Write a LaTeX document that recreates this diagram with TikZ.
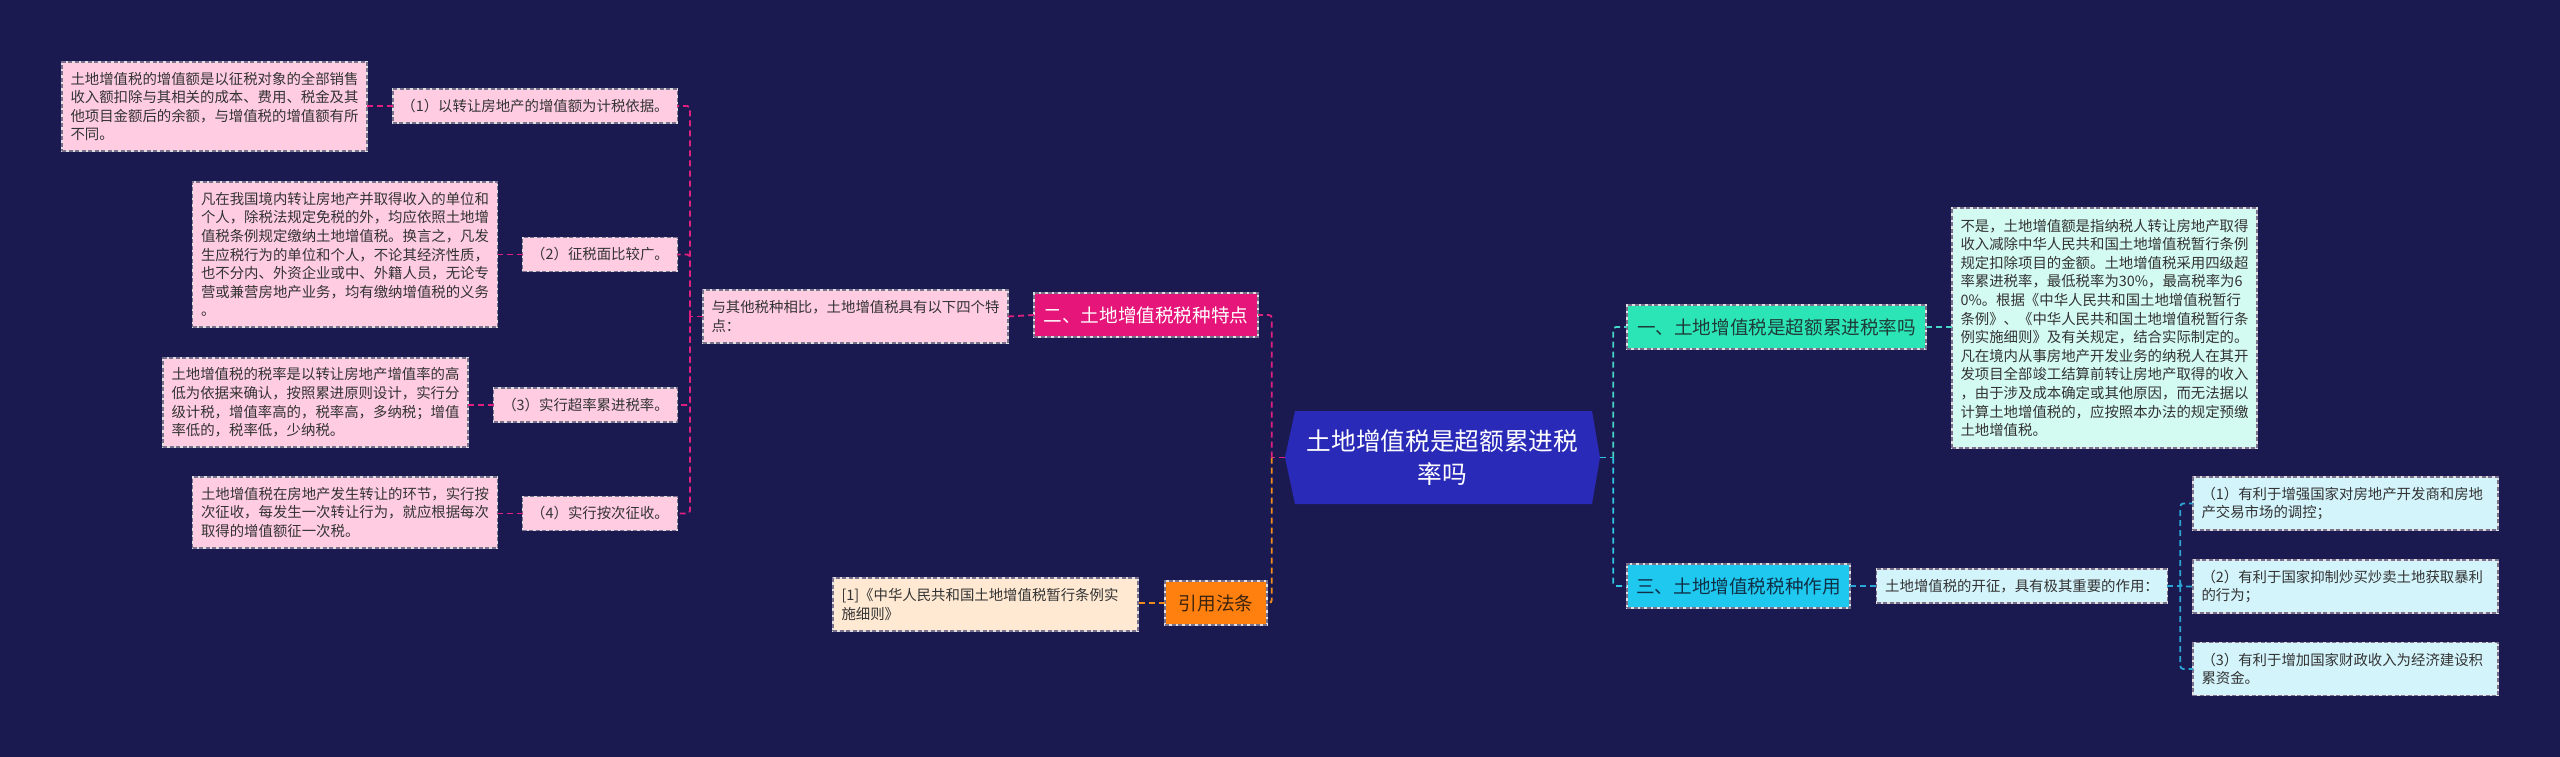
\documentclass[tikz,border=0pt]{standalone}
\usepackage{fontspec}
\setmainfont{Noto Sans CJK SC}
\usetikzlibrary{calc}
\definecolor{bg}{RGB}{27,26,80}
\definecolor{mag}{RGB}{224,32,127}
\definecolor{org}{RGB}{240,140,30}
\definecolor{cyn}{RGB}{47,200,226}
\definecolor{mint}{RGB}{70,214,200}
\definecolor{blu}{RGB}{42,165,214}
\definecolor{pinkfill}{RGB}{255,204,225}
\definecolor{peach}{RGB}{255,233,211}
\definecolor{mintfill}{RGB}{212,251,241}
\definecolor{cyanfill}{RGB}{211,244,251}
\definecolor{magfill}{RGB}{230,21,122}
\definecolor{orgfill}{RGB}{255,127,15}
\definecolor{mintbox}{RGB}{44,229,183}
\definecolor{cyanbox}{RGB}{30,200,238}
\definecolor{hexfill}{RGB}{42,42,184}
\definecolor{txt}{RGB}{51,51,51}
\definecolor{bordergray}{RGB}{120,112,140}
\begin{document}
\begin{tikzpicture}[x=1pt,y=-1pt]
\tikzset{
  boxbase/.style={rectangle, inner xsep=8.5pt, inner ysep=0pt, outer sep=0pt,
    draw=white!88!black, line width=1.2pt,
    postaction={draw=bordergray, dash pattern=on 4pt off 2.5pt, line width=1.2pt}},
  small/.style={boxbase, text=txt, font=\fontsize{14.4}{18.6}\selectfont},
  para/.style={small, align=left, text width=288pt},
  single/.style={small, align=center},
  head/.style={boxbase, align=center, minimum height=44pt, font=\fontsize{18.6}{22}\selectfont},
  conn/.style={dash pattern=on 6pt off 4pt, line width=1.8pt, rounded corners=3pt},
}
\fill[bg] (0,0) rectangle (2560,757);

% ---------- center ----------
\coordinate (cc) at (1442.5,457.5);
\fill[hexfill] ($(cc)+(-157.5,0)$) -- ($(cc)+(-147.5,-46.5)$) -- ($(cc)+(149.5,-46.5)$)
  -- ($(cc)+(157.5,0)$) -- ($(cc)+(149.5,46.5)$) -- ($(cc)+(-147.5,46.5)$) -- cycle;
\node[align=center, text=white, font=\fontsize{24.7}{33}\selectfont,
  minimum width=315pt, minimum height=93pt, inner sep=0pt] (c) at (cc)
  {土地增值税是超额累进税\\率吗};

% ---------- left branch ----------
\node[head, fill=magfill, text=white, minimum width=224pt] (er) at (1146,315) {二、土地增值税税种特点};
\node[para, fill=pinkfill, minimum height=53pt] (tz) at (855.5,316.5)
  {与其他税种相比，土地增值税具有以下四个特\\点：};

\node[single, fill=pinkfill, minimum width=284pt, minimum height=34pt] (q1) at (535,106)
  {（1）以转让房地产的增值额为计税依据。};
\node[single, fill=pinkfill, minimum width=154pt, minimum height=34pt] (q2) at (600,254.5)
  {（2）征税面比较广。};
\node[single, fill=pinkfill, minimum width=183pt, minimum height=34pt] (q3) at (585.5,405)
  {（3）实行超率累进税率。};
\node[single, fill=pinkfill, minimum width=154pt, minimum height=34pt] (q4) at (600,513.5)
  {（4）实行按次征收。};

\node[para, fill=pinkfill, minimum height=89pt] (L1) at (214.5,106.5)
  {土地增值税的增值额是以征税对象的全部销售\\收入额扣除与其相关的成本、费用、税金及其\\他项目金额后的余额，与增值税的增值额有所\\不同。};
\node[para, fill=pinkfill, minimum height=145pt] (L2) at (345,254.5)
  {凡在我国境内转让房地产并取得收入的单位和\\个人，除税法规定免税的外，均应依照土地增\\值税条例规定缴纳土地增值税。换言之，凡发\\生应税行为的单位和个人，不论其经济性质，\\也不分内、外资企业或中、外籍人员，无论专\\营或兼营房地产业务，均有缴纳增值税的义务\\。};
\node[para, fill=pinkfill, minimum height=89pt] (L3) at (315.5,402.5)
  {土地增值税的税率是以转让房地产增值率的高\\低为依据来确认，按照累进原则设计，实行分\\级计税，增值率高的，税率高，多纳税；增值\\率低的，税率低，少纳税。};
\node[para, fill=pinkfill, minimum height=71pt] (L4) at (345,512.5)
  {土地增值税在房地产发生转让的环节，实行按\\次征收，每发生一次转让行为，就应根据每次\\取得的增值额征一次税。};

\node[head, fill=orgfill, text={rgb,255:red,59;green,36;blue,16}, minimum width=102pt] (yy) at (1216,603) {引用法条};
\node[para, fill=peach, minimum height=53pt] (ref) at (985.5,604.5)
  {[1]《中华人民共和国土地增值税暂行条例实\\施细则》};

% ---------- right branch ----------
\node[head, fill=mintbox, text={rgb,255:red,30;green,60;blue,55}, minimum width=299pt] (yi) at (1776.5,327)
  {一、土地增值税是超额累进税率吗};
\node[para, fill=mintfill, minimum height=240pt] (big) at (2104.5,328)
  {不是，土地增值额是指纳税人转让房地产取得\\收入减除中华人民共和国土地增值税暂行条例\\规定扣除项目的金额。土地增值税采用四级超\\率累进税率，最低税率为30\%，最高税率为6\\0\%。根据《中华人民共和国土地增值税暂行\\条例》、《中华人民共和国土地增值税暂行条\\例实施细则》及有关规定，结合实际制定的。\\凡在境内从事房地产开发业务的纳税人在其开\\发项目全部竣工结算前转让房地产取得的收入\\，由于涉及成本确定或其他原因，而无法据以\\计算土地增值税的，应按照本办法的规定预缴\\土地增值税。};

\node[head, fill=cyanbox, text={rgb,255:red,16;green,48;blue,72}, minimum width=223pt] (san) at (1738.5,586)
  {三、土地增值税税种作用};
\node[single, fill=cyanfill, minimum width=290pt, minimum height=34pt] (kz) at (2022,586)
  {土地增值税的开征，具有极其重要的作用：};
\node[para, fill=cyanfill, minimum height=53pt] (r1) at (2345.5,503.5)
  {（1）有利于增强国家对房地产开发商和房地\\产交易市场的调控；};
\node[para, fill=cyanfill, minimum height=53pt] (r2) at (2345.5,586.5)
  {（2）有利于国家抑制炒买炒卖土地获取暴利\\的行为；};
\node[para, fill=cyanfill, minimum height=53pt] (r3) at (2345.5,669)
  {（3）有利于增加国家财政收入为经济建设积\\累资金。};

% ---------- connectors ----------
\coordinate (spC) at ($(c.west)+(-13,0)$);
\coordinate (spR) at ($(c.east)+(13,0)$);
\coordinate (spL) at ($(tz.west)+(-13,0)$);
\coordinate (spK) at ($(kz.east)+(13,0)$);

\draw[conn, mag] (c.west) -- (spC);
\draw[conn, mag] (spC) |- (er.east);
\draw[conn, org] (spC) |- (yy.east);
\draw[conn, mag] (er.west) -- (tz.east);
\draw[conn, mag] (tz.west) -- (spL);
\draw[conn, mag] (spL) |- (q1.east);
\draw[conn, mag] (spL) |- (q2.east);
\draw[conn, mag] (spL) |- (q3.east);
\draw[conn, mag] (spL) |- (q4.east);
\draw[conn, mag] (q1.west) -- (L1.east |- q1.west);
\draw[conn, mag] (q2.west) -- (L2.east |- q2.west);
\draw[conn, mag] (q3.west) -- (L3.east |- q3.west);
\draw[conn, mag] (q4.west) -- (L4.east |- q4.west);
\draw[conn, org] (yy.west) -- (ref.east |- yy.west);

\draw[conn, cyn] (c.east) -- (spR);
\draw[conn, mint] (spR) |- (yi.west);
\draw[conn, cyn] (spR) |- (san.west);
\draw[conn, mint] (yi.east) -- (big.west |- yi.east);
\draw[conn, blu] (san.east) -- (kz.west);
\draw[conn, blu] (kz.east) -- (spK);
\draw[conn, blu] (spK) |- (r1.west);
\draw[conn, blu] (spK) |- (r2.west);
\draw[conn, blu] (spK) |- (r3.west);
\end{tikzpicture}
\end{document}
